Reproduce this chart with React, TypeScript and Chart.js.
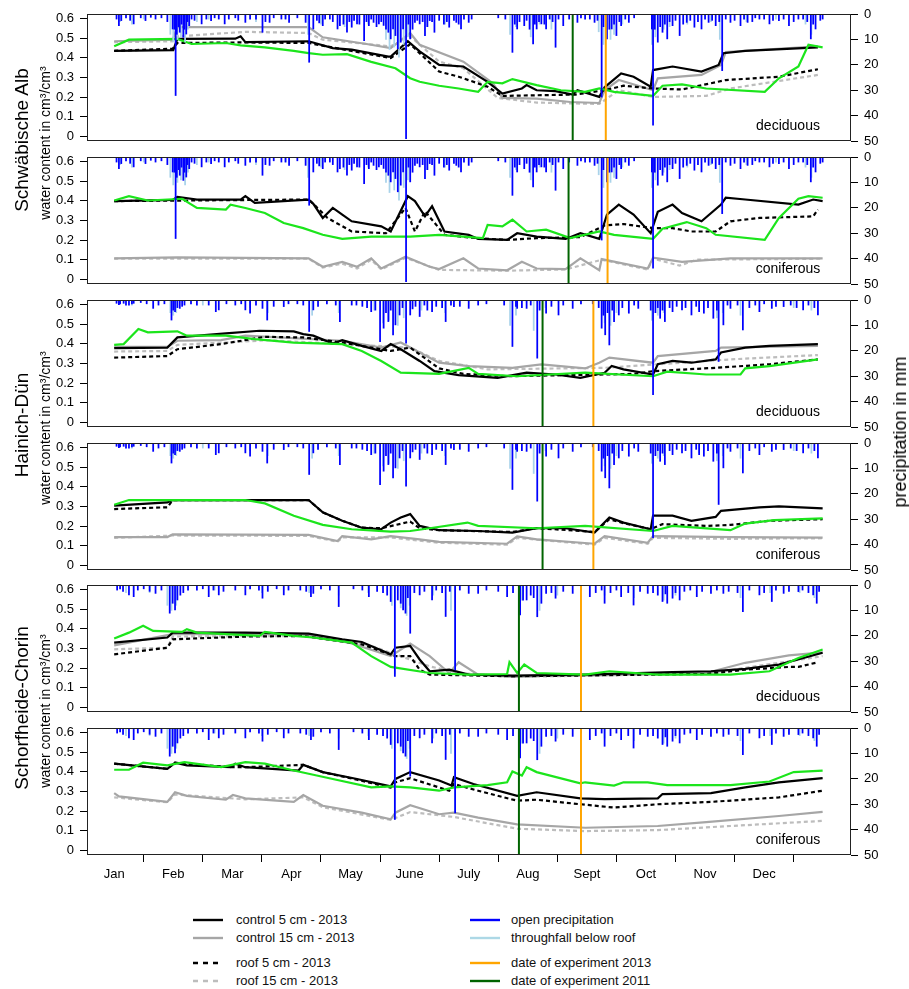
import React, { useEffect, useRef } from "react";
import { Chart, registerables } from "chart.js";
Chart.register(...registerables);

type P = [number, number];

// ---------- axes / labels ----------
const MONTHS = ["Jan", "Feb", "Mar", "Apr", "May", "June", "July", "Aug", "Sept", "Oct", "Nov", "Dec"];
const MONTH_TICKS = [0, 1, 2, 3, 4, 5, 6, 7, 8, 9, 10, 11, 12];
const WATER_TICKS = [0, 0.1, 0.2, 0.3, 0.4, 0.5, 0.6];
const PRECIP_TICKS = [0, 10, 20, 30, 40, 50];
const SITES = ["Schwäbische Alb", "Hainich-Dün", "Schorfheide-Chorin"];
const FORESTS = ["deciduous", "coniferous", "deciduous", "coniferous", "deciduous", "coniferous"];
// experiment dates (x in months since 1 Jan)
const EXP_2013 = [8.32, 8.35, 8.11, 8.11, 7.9, 7.9];
const EXP_2011 = [7.76, 7.69, 7.25, 7.25, 6.85, 6.85];

// ---------- Schwäbische Alb, deciduous ----------
const albDecC5: P[] = [[0,0.436],[1.0,0.44],[1.07,0.497],[2.05,0.498],[2.14,0.51],[2.22,0.48],[3.29,0.485],[3.7,0.45],[4.02,0.442],[4.64,0.407],[4.68,0.407],[4.97,0.485],[5.17,0.433],[5.5,0.364],[5.91,0.356],[6.32,0.278],[6.57,0.218],[6.9,0.244],[6.98,0.261],[7.15,0.235],[7.47,0.23],[7.76,0.213],[7.84,0.235],[8.21,0.201],[8.3,0.25],[8.58,0.321],[8.79,0.304],[9.08,0.253],[9.12,0.338],[9.45,0.356],[9.94,0.33],[10.23,0.364],[10.31,0.424],[10.68,0.436],[11.91,0.454]];
const albDecC15: P[] = [[0,0.485],[0.99,0.493],[1.07,0.557],[3.29,0.557],[3.53,0.505],[4.27,0.471],[4.68,0.45],[5.01,0.527],[5.17,0.467],[5.91,0.381],[6.41,0.27],[6.57,0.196],[7.15,0.192],[7.72,0.175],[8.21,0.17],[8.3,0.235],[8.54,0.287],[9.12,0.235],[9.2,0.296],[9.94,0.313],[10.27,0.364],[10.35,0.43],[11.91,0.459]];
const albDecR5: P[] = [[0,0.436],[0.99,0.447],[1.07,0.476],[2.14,0.479],[3.29,0.476],[4.68,0.399],[5.01,0.47],[5.5,0.33],[5.83,0.304],[6.32,0.253],[6.57,0.206],[7.8,0.213],[8.3,0.235],[8.62,0.258],[9.12,0.244],[9.61,0.239],[10.35,0.287],[11.25,0.304],[11.91,0.342]];
const albDecR15: P[] = [[0,0.48],[0.99,0.485],[1.07,0.51],[2.22,0.533],[3.29,0.527],[3.53,0.493],[4.68,0.459],[5.01,0.51],[5.5,0.381],[5.91,0.347],[6.49,0.196],[7.15,0.172],[8.21,0.165],[8.54,0.235],[9.12,0.201],[10.02,0.206],[10.43,0.244],[11.91,0.313]];
const albDecGreen: P[] = [[0,0.459],[0.25,0.493],[1.07,0.497],[1.31,0.471],[1.89,0.476],[2.14,0.464],[2.55,0.454],[3.04,0.436],[3.29,0.424],[3.53,0.416],[3.94,0.419],[4.35,0.38],[4.76,0.347],[5.01,0.296],[5.17,0.278],[5.5,0.258],[5.83,0.244],[6.16,0.227],[6.32,0.278],[6.57,0.27],[6.74,0.292],[7.15,0.261],[7.56,0.235],[7.97,0.227],[8.21,0.244],[8.46,0.227],[9.12,0.206],[9.28,0.258],[9.61,0.265],[10.02,0.244],[11.01,0.227],[11.25,0.296],[11.58,0.356],[11.75,0.467],[11.99,0.454]];

// ---------- Schwäbische Alb, coniferous ----------
const albConC5: P[] = [[0,0.399],[0.99,0.405],[1.07,0.421],[1.4,0.407],[2.14,0.407],[2.22,0.424],[2.38,0.39],[3.29,0.407],[3.37,0.385],[3.53,0.313],[3.7,0.364],[3.86,0.33],[4.02,0.296],[4.52,0.27],[4.68,0.244],[4.97,0.424],[5.09,0.399],[5.26,0.321],[5.38,0.373],[5.59,0.244],[6.0,0.227],[6.16,0.206],[6.65,0.201],[6.82,0.235],[7.15,0.218],[7.64,0.206],[7.89,0.235],[8.21,0.206],[8.34,0.33],[8.54,0.381],[8.79,0.33],[9.08,0.235],[9.2,0.344],[9.45,0.381],[9.61,0.338],[9.94,0.296],[10.27,0.381],[10.35,0.416],[10.68,0.407],[11.58,0.381],[11.83,0.407],[11.99,0.399]];
const albConC15: P[] = [[0,0.107],[1.07,0.112],[3.29,0.107],[3.53,0.064],[3.86,0.089],[4.11,0.064],[4.35,0.107],[4.52,0.055],[4.93,0.115],[5.34,0.064],[5.5,0.052],[5.91,0.107],[6.16,0.055],[6.65,0.046],[6.9,0.089],[7.15,0.055],[7.64,0.052],[7.89,0.107],[8.21,0.046],[8.25,0.103],[9.03,0.055],[9.12,0.11],[9.61,0.089],[10.43,0.107],[11.99,0.107]];
const albConR5: P[] = [[0,0.399],[3.29,0.407],[3.37,0.385],[3.61,0.313],[4.02,0.244],[4.6,0.235],[4.93,0.364],[5.09,0.244],[5.26,0.347],[5.59,0.227],[6.0,0.213],[6.65,0.201],[7.15,0.21],[7.89,0.215],[8.3,0.275],[8.62,0.282],[9.12,0.261],[9.45,0.261],[9.77,0.244],[10.18,0.244],[10.43,0.296],[10.92,0.313],[11.83,0.321],[11.91,0.356]];
const albConR15: P[] = [[0,0.105],[3.29,0.105],[3.53,0.06],[3.86,0.08],[4.11,0.055],[4.35,0.1],[4.52,0.05],[4.93,0.11],[5.5,0.048],[6.65,0.044],[7.64,0.05],[8.25,0.1],[9.03,0.05],[9.12,0.105],[9.57,0.07],[9.86,0.1],[11.99,0.105]];
const albConGreen: P[] = [[0,0.402],[0.25,0.424],[0.57,0.402],[1.15,0.411],[1.4,0.364],[1.89,0.356],[1.97,0.381],[2.22,0.364],[2.55,0.338],[2.87,0.287],[3.2,0.261],[3.53,0.227],[3.86,0.206],[4.35,0.218],[5.01,0.218],[5.5,0.227],[6.24,0.21],[6.32,0.278],[6.57,0.27],[6.74,0.304],[6.98,0.244],[7.31,0.253],[7.72,0.21],[8.21,0.244],[8.46,0.227],[9.12,0.206],[9.28,0.258],[9.69,0.292],[10.02,0.261],[10.18,0.227],[11.01,0.201],[11.25,0.313],[11.58,0.411],[11.75,0.424],[11.99,0.416]];

// ---------- Hainich-Dün, deciduous ----------
const haiDecC5: P[] = [[0,0.378],[0.9,0.381],[1.07,0.433],[1.89,0.454],[2.46,0.467],[3.04,0.464],[3.2,0.45],[3.37,0.442],[3.7,0.402],[3.86,0.419],[4.19,0.39],[4.52,0.364],[4.68,0.399],[4.85,0.373],[5.17,0.313],[5.42,0.261],[5.83,0.241],[6.49,0.227],[6.98,0.253],[7.47,0.244],[7.89,0.227],[8.3,0.253],[8.42,0.287],[8.62,0.27],[9.12,0.244],[9.2,0.296],[9.45,0.313],[9.77,0.304],[10.18,0.321],[10.27,0.356],[10.68,0.381],[11.09,0.39],[11.91,0.399]];
const haiDecC15: P[] = [[0,0.385],[0.9,0.385],[1.07,0.416],[1.81,0.419],[2.22,0.442],[3.86,0.416],[4.52,0.381],[4.85,0.407],[5.17,0.356],[5.5,0.304],[6.0,0.287],[6.74,0.278],[7.23,0.296],[7.97,0.275],[8.21,0.304],[8.38,0.33],[9.12,0.304],[9.2,0.338],[10.18,0.364],[10.27,0.381],[11.91,0.39]];
const haiDecR5: P[] = [[0,0.33],[0.9,0.338],[1.07,0.373],[1.81,0.399],[2.55,0.436],[3.2,0.433],[3.86,0.407],[4.68,0.364],[5.01,0.381],[5.5,0.275],[5.91,0.247],[6.65,0.235],[8.3,0.244],[8.79,0.247],[9.12,0.261],[10.18,0.278],[11.09,0.296],[11.91,0.321]];
const haiDecR15: P[] = [[0,0.361],[0.9,0.364],[1.07,0.395],[2.63,0.419],[3.86,0.399],[5.01,0.381],[5.5,0.313],[6.32,0.27],[8.3,0.278],[9.2,0.296],[10.43,0.321],[11.91,0.343]];
const haiDecGreen: P[] = [[0,0.395],[0.16,0.399],[0.41,0.476],[0.57,0.459],[1.07,0.464],[1.23,0.442],[1.89,0.442],[2.38,0.424],[3.04,0.407],[3.86,0.399],[4.19,0.364],[4.52,0.313],[4.85,0.253],[5.5,0.247],[6.0,0.278],[6.16,0.247],[6.82,0.235],[7.97,0.253],[9.12,0.235],[9.36,0.258],[10.02,0.244],[10.6,0.244],[10.68,0.275],[11.09,0.287],[11.91,0.321]];

// ---------- Hainich-Dün, coniferous ----------
const haiConC5: P[] = [[0,0.304],[0.9,0.321],[0.99,0.333],[3.29,0.333],[3.53,0.27],[3.86,0.227],[4.19,0.192],[4.52,0.184],[4.68,0.218],[4.85,0.244],[5.01,0.261],[5.17,0.201],[5.5,0.179],[6.16,0.175],[6.74,0.167],[7.15,0.189],[7.64,0.189],[8.13,0.167],[8.38,0.244],[8.62,0.218],[9.08,0.184],[9.12,0.253],[9.45,0.253],[9.77,0.227],[10.18,0.247],[10.27,0.278],[10.92,0.296],[11.25,0.301],[11.99,0.29]];
const haiConC15: P[] = [[0,0.144],[0.9,0.144],[0.99,0.158],[3.29,0.155],[3.78,0.124],[3.86,0.149],[4.35,0.132],[4.68,0.149],[5.17,0.132],[5.5,0.12],[6.65,0.11],[6.82,0.148],[7.15,0.132],[8.13,0.11],[8.3,0.149],[9.03,0.115],[9.12,0.149],[10.43,0.144],[11.99,0.141]];
const haiConR5: P[] = [[0,0.287],[0.9,0.296],[0.99,0.333],[3.29,0.333],[3.53,0.27],[3.86,0.227],[4.19,0.192],[4.52,0.189],[5.01,0.223],[5.17,0.189],[5.5,0.179],[6.74,0.17],[7.15,0.19],[8.13,0.17],[8.38,0.235],[8.62,0.215],[9.08,0.184],[9.28,0.21],[10.02,0.201],[10.43,0.206],[11.09,0.227],[11.99,0.235]];
const haiConR15: P[] = [[0,0.14],[0.99,0.152],[3.29,0.15],[3.78,0.12],[3.86,0.142],[4.68,0.142],[5.5,0.115],[6.65,0.105],[6.82,0.14],[8.13,0.105],[8.3,0.14],[9.03,0.11],[9.12,0.14],[10.43,0.135],[11.99,0.138]];
const haiConGreen: P[] = [[0,0.309],[0.25,0.333],[2.22,0.333],[2.55,0.316],[3.04,0.253],[3.53,0.206],[4.02,0.184],[4.68,0.172],[5.01,0.175],[5.34,0.189],[5.98,0.218],[6.16,0.201],[7.15,0.189],[7.97,0.201],[9.12,0.175],[9.45,0.201],[10.43,0.179],[10.68,0.213],[11.17,0.23],[11.99,0.239]];

// ---------- Schorfheide-Chorin, deciduous ----------
const schDecC5: P[] = [[0,0.33],[0.9,0.356],[0.99,0.381],[2.22,0.381],[3.29,0.376],[3.86,0.347],[4.19,0.333],[4.68,0.27],[4.76,0.304],[5.01,0.313],[5.17,0.244],[5.34,0.184],[5.67,0.192],[6.0,0.167],[6.74,0.162],[7.97,0.167],[9.45,0.179],[10.1,0.184],[10.68,0.196],[11.25,0.218],[11.99,0.278]];
const schDecC15: P[] = [[0,0.316],[0.99,0.373],[3.2,0.373],[3.94,0.333],[4.68,0.261],[5.01,0.325],[5.34,0.261],[5.67,0.175],[5.83,0.23],[6.16,0.167],[6.74,0.158],[10.02,0.175],[10.68,0.227],[11.42,0.265],[11.99,0.28]];
const schDecR5: P[] = [[0,0.27],[0.9,0.304],[0.99,0.347],[2.22,0.361],[3.2,0.364],[4.19,0.321],[4.76,0.261],[5.01,0.261],[5.17,0.192],[5.34,0.167],[6.74,0.158],[10.02,0.17],[10.68,0.192],[11.42,0.206],[11.58,0.206],[11.91,0.23]];
const schDecR15: P[] = [[0,0.296],[0.9,0.304],[0.99,0.361],[3.2,0.364],[4.35,0.313],[4.76,0.27],[5.34,0.209],[5.83,0.175],[6.74,0.155],[10.02,0.172],[11.25,0.227],[11.99,0.261]];
const schDecGreen: P[] = [[0,0.351],[0.25,0.381],[0.49,0.416],[0.66,0.39],[1.15,0.385],[1.23,0.399],[1.4,0.381],[2.46,0.364],[2.55,0.385],[3.04,0.364],[3.37,0.356],[4.02,0.33],[4.35,0.261],[4.68,0.206],[5.34,0.175],[6.0,0.167],[6.65,0.17],[6.69,0.23],[6.82,0.175],[6.94,0.218],[7.15,0.175],[7.97,0.167],[8.38,0.184],[9.2,0.167],[10.43,0.167],[11.09,0.184],[11.58,0.252],[11.99,0.295]];

// ---------- Schorfheide-Chorin, coniferous ----------
const schConC5: P[] = [[0,0.442],[0.9,0.416],[1.03,0.447],[1.23,0.433],[1.97,0.424],[2.05,0.442],[2.22,0.424],[3.12,0.407],[3.2,0.436],[3.53,0.399],[4.11,0.364],[4.68,0.326],[4.76,0.364],[5.01,0.399],[5.5,0.356],[5.71,0.33],[5.75,0.373],[6.08,0.338],[6.82,0.278],[7.15,0.296],[7.89,0.265],[8.3,0.261],[9.2,0.265],[9.28,0.287],[10.1,0.292],[10.68,0.321],[11.25,0.347],[11.99,0.368]];
const schConC15: P[] = [[0,0.292],[0.08,0.275],[0.9,0.247],[1.03,0.296],[1.23,0.278],[1.89,0.258],[2.01,0.282],[2.22,0.265],[3.04,0.247],[3.2,0.282],[3.53,0.227],[4.19,0.192],[4.68,0.158],[4.76,0.192],[5.01,0.23],[5.5,0.184],[5.75,0.192],[6.16,0.167],[6.82,0.132],[7.97,0.115],[9.2,0.124],[10.02,0.144],[11.25,0.175],[11.99,0.196]];
const schConR5: P[] = [[0,0.442],[0.9,0.416],[1.03,0.447],[1.97,0.424],[2.22,0.424],[3.2,0.436],[3.53,0.399],[4.11,0.36],[4.68,0.32],[4.76,0.347],[5.01,0.368],[5.67,0.304],[5.75,0.338],[6.16,0.304],[6.82,0.253],[7.15,0.258],[7.89,0.235],[8.46,0.218],[9.2,0.235],[10.1,0.247],[11.25,0.27],[11.99,0.304]];
const schConR15: P[] = [[0,0.27],[0.9,0.245],[1.03,0.285],[2.22,0.26],[3.2,0.27],[3.53,0.22],[4.68,0.155],[5.01,0.195],[5.75,0.17],[6.82,0.11],[7.97,0.098],[9.2,0.103],[10.43,0.124],[11.99,0.15]];
const schConGreen: P[] = [[0,0.411],[0.25,0.411],[0.49,0.447],[0.9,0.433],[1.19,0.45],[1.81,0.424],[2.22,0.45],[2.55,0.442],[3.04,0.407],[3.7,0.364],[4.35,0.321],[4.68,0.326],[5.01,0.321],[5.5,0.304],[5.75,0.321],[6.32,0.333],[6.65,0.347],[6.74,0.402],[6.9,0.381],[6.98,0.424],[7.15,0.399],[7.89,0.342],[7.97,0.347],[8.46,0.33],[8.62,0.347],[9.03,0.347],[9.36,0.333],[10.43,0.333],[11.09,0.351],[11.5,0.399],[11.99,0.407]];

// ---------- precipitation (mm), x in months ----------
const albOpen: P[] = [[0.08,4.6],[0.12,2.6],[0.33,3.9],[0.53,2.6],[0.62,1.3],[0.99,5.9],[1.04,32.1],[1.11,7.2],[1.17,9.2],[1.22,7.9],[1.27,4.6],[1.48,3.9],[1.64,2.6],[1.77,2.0],[1.87,3.9],[2.22,3.3],[2.3,2.0],[2.51,7.2],[2.63,3.3],[2.83,2.0],[2.96,3.3],[3.24,3.3],[3.3,19.0],[3.37,5.9],[3.53,4.6],[3.57,2.0],[3.78,5.9],[3.82,4.6],[3.94,7.2],[4.02,5.2],[4.11,3.9],[4.23,10.5],[4.31,4.6],[4.39,3.3],[4.48,3.9],[4.64,7.2],[4.68,9.8],[4.72,5.9],[4.76,8.5],[4.8,13.7],[4.85,11.1],[4.89,5.9],[4.94,49.1],[5.01,9.8],[5.09,3.3],[5.17,3.9],[5.26,8.5],[5.34,2.6],[5.42,7.2],[5.67,5.2],[5.79,3.3],[5.87,5.9],[6.0,3.3],[6.74,15.1],[6.82,5.9],[6.94,4.6],[7.09,11.8],[7.15,5.9],[7.23,3.9],[7.31,5.9],[7.47,13.1],[7.6,4.6],[7.84,3.3],[7.97,2.0],[8.13,3.3],[8.25,32.7],[8.34,9.8],[8.42,5.9],[8.5,8.5],[8.58,4.6],[8.71,3.3],[9.1,5.9],[9.12,43.8],[9.2,11.1],[9.28,7.2],[9.36,9.8],[9.45,4.6],[9.57,8.5],[9.69,3.3],[9.82,5.2],[9.94,5.9],[10.06,3.3],[10.18,4.6],[10.29,22.3],[10.43,3.3],[10.6,4.6],[10.72,3.3],[10.92,2.0],[11.09,3.9],[11.25,2.6],[11.42,4.6],[11.58,2.0],[11.79,9.8],[11.87,5.9],[11.99,2.0]];
const albOpenSmall: P[] = [[0.04,2],[0.2,1.5],[0.27,2.5],[0.45,1.5],[0.7,2],[0.8,1.5],[0.9,3],[1.02,6],[1.06,8],[1.09,5],[1.14,4],[1.19,6],[1.24,3],[1.31,2],[1.36,2.5],[1.56,2],[1.7,1.5],[1.94,2],[2.05,1.5],[2.1,2.5],[2.4,2],[2.56,3],[2.7,1.5],[2.9,2],[3.1,1.5],[3.43,2.5],[3.47,3.5],[3.65,2],[3.7,3],[3.88,4],[3.98,3],[4.06,2.5],[4.15,4],[4.27,3],[4.35,2],[4.44,5],[4.52,3],[4.56,4.5],[4.6,6],[4.98,4],[5.05,6],[5.13,2.5],[5.22,3],[5.3,5],[5.38,3],[5.5,2.5],[5.58,4],[5.63,3],[5.75,2.5],[5.83,4],[5.92,2],[6.05,2],[6.5,1.5],[6.62,2],[6.78,4],[6.86,3],[6.98,2.5],[7.03,6],[7.12,4],[7.19,3],[7.28,4],[7.37,2],[7.42,3],[7.52,2],[7.7,2],[7.9,1.5],[8.05,2],[8.18,2.5],[8.28,5],[8.38,6],[8.46,4],[8.55,3],[8.65,2],[8.8,1.5],[9.15,6],[9.24,5],[9.32,4],[9.4,3],[9.5,2.5],[9.63,4],[9.75,2.5],[9.88,3],[10.0,2],[10.12,2.5],[10.24,3],[10.35,2],[10.5,2.5],[10.66,2],[10.8,3],[10.85,1.5],[11.0,2],[11.15,2.5],[11.33,2],[11.5,3],[11.66,2],[11.73,3],[11.83,4],[11.95,2.5]];
const albThroughfall: P[] = [[0.1,3],[0.3,4],[0.5,2],[0.95,8],[1.0,11],[1.07,10],[1.13,9],[1.2,11],[1.25,6],[1.4,3],[1.6,2],[2.4,3],[2.9,2],[3.28,8],[3.5,4],[3.9,5],[4.3,4],[4.6,10],[4.66,14],[4.74,13],[4.82,17],[4.9,12],[4.97,9],[5.3,5],[5.6,4],[6.7,8],[6.8,5],[7.05,9],[7.2,4],[7.4,6],[8.2,7],[8.28,12],[8.4,10],[8.46,8],[8.6,4],[9.1,12],[9.16,9],[9.3,6],[9.4,5],[9.7,4],[10.1,3],[10.25,10],[10.7,3],[11.2,2],[11.7,4],[11.8,8]];
const haiOpen: P[] = [[0.04,1.3],[0.08,1.8],[0.16,1.3],[0.25,2.0],[0.33,1.3],[0.66,3.3],[0.97,7.9],[1.03,4.6],[1.11,3.3],[1.19,2.0],[1.4,2.0],[1.72,4.6],[1.77,3.9],[2.22,3.9],[2.3,5.2],[2.51,3.3],[2.59,7.9],[2.87,2.6],[3.3,12.4],[3.37,3.9],[3.82,8.5],[4.02,2.0],[4.35,4.6],[4.5,16.4],[4.56,11.1],[4.64,8.5],[4.72,13.7],[4.76,9.8],[4.83,5.9],[4.94,17.0],[5.01,5.9],[5.17,6.5],[5.38,4.6],[5.61,8.5],[5.75,2.6],[6.0,3.3],[6.16,2.0],[6.74,18.3],[6.82,3.3],[6.98,3.3],[7.16,22.9],[7.31,5.2],[7.52,5.9],[7.76,3.3],[8.25,11.1],[8.31,13.7],[8.38,17.7],[8.46,8.5],[8.54,5.9],[8.71,5.2],[8.87,3.3],[9.12,37.3],[9.24,7.2],[9.32,8.5],[9.45,4.6],[9.61,3.9],[9.77,5.9],[9.9,4.6],[9.98,5.2],[10.14,7.2],[10.23,24.2],[10.31,9.8],[10.43,3.3],[10.64,11.8],[10.92,4.6],[11.13,3.3],[11.33,2.6],[11.66,3.9],[11.91,5.9]];
const haiOpenSmall: P[] = [[0.1,1.5],[0.2,2],[0.3,1.5],[0.45,1],[0.55,1.5],[0.75,2],[0.85,1.5],[1.0,4],[1.07,3],[1.15,2.5],[1.3,1.5],[1.6,2],[1.9,1.5],[2.05,2],[2.15,1.5],[2.4,2],[2.7,2.5],[2.95,1.5],[3.1,1.5],[3.2,2],[3.45,2.5],[3.6,1.5],[3.75,2],[4.1,2],[4.2,2.5],[4.28,3],[4.42,4],[4.6,5],[4.68,4],[4.88,3],[5.05,3.5],[5.1,2.5],[5.25,2],[5.3,4],[5.45,2.5],[5.55,3],[5.7,2],[5.85,2.5],[6.3,1.5],[6.6,2],[6.8,2.5],[6.9,3],[7.05,2],[7.2,4],[7.4,2.5],[7.6,2],[7.9,1.5],[8.1,1.5],[8.2,3],[8.28,6],[8.35,5],[8.43,4],[8.6,3],[8.8,2],[9.08,4],[9.16,5],[9.2,3],[9.28,4],[9.4,3],[9.52,2.5],[9.67,3],[9.85,2.5],[10.05,3],[10.2,4],[10.38,2],[10.55,2],[10.75,3],[10.85,2],[11.0,1.5],[11.2,2.5],[11.45,2],[11.55,3],[11.75,2],[11.85,3]];
const haiThroughfall: P[] = [[0.3,2],[0.95,5],[1.0,6],[1.05,5],[1.5,2],[2.3,3],[2.6,5],[3.35,6],[3.8,5],[4.4,4],[4.55,9],[4.65,8],[4.8,10],[4.9,7],[5.2,4],[5.6,5],[6.7,10],[6.8,6],[7.1,12],[7.3,3],[8.3,9],[8.4,10],[8.5,5],[9.1,8],[9.2,6],[9.3,5],[9.9,4],[10.2,7],[10.3,5],[10.6,6],[11.5,3],[11.8,4]];
const schOpen: P[] = [[0.25,3.9],[0.33,4.6],[0.7,3.3],[0.94,11.1],[0.99,7.2],[1.03,9.8],[1.07,5.9],[1.4,2.0],[1.6,4.6],[1.77,3.9],[2.22,3.9],[2.51,5.2],[2.87,3.9],[3.33,4.6],[3.37,3.3],[3.8,8.5],[4.31,4.6],[4.68,6.5],[4.75,36.0],[4.8,5.9],[4.85,7.2],[4.89,9.8],[4.93,11.1],[5.01,19.0],[5.17,3.9],[5.38,5.9],[5.61,12.4],[5.77,33.4],[6.0,3.3],[6.16,3.3],[6.65,4.6],[6.87,11.8],[6.98,5.9],[7.16,12.5],[7.23,7.2],[7.31,3.3],[7.47,5.2],[7.76,3.3],[8.05,4.6],[8.3,7.2],[8.58,4.6],[8.79,7.9],[9.03,3.3],[9.28,6.5],[9.36,7.2],[9.45,5.2],[9.57,5.9],[9.86,4.6],[10.1,3.3],[10.31,3.3],[10.64,10.5],[10.92,3.9],[11.13,6.5],[11.33,3.3],[11.58,2.6],[11.83,3.9],[11.89,7.2]];
const schOpenSmall: P[] = [[0.05,2],[0.1,1.5],[0.15,2.5],[0.4,2],[0.5,1.5],[0.6,2.5],[0.8,2],[1.12,4],[1.17,3],[1.25,2],[1.5,1.5],[1.68,2],[1.85,2.5],[2.05,2],[2.3,1.5],[2.45,2],[2.6,2.5],[2.75,1.5],[2.95,2],[3.15,2],[3.25,2.5],[3.5,1.5],[3.65,2],[4.05,1.5],[4.2,2],[4.45,2.5],[4.55,3],[4.62,4],[4.97,5],[5.08,3],[5.25,2.5],[5.45,2],[5.55,3],[5.68,2.5],[5.85,2],[6.3,2],[6.5,2.5],[6.75,3],[6.92,6],[7.05,4],[7.1,5],[7.4,3],[7.6,2.5],[7.9,2],[8.15,3],[8.25,2],[8.4,3],[8.5,2],[8.7,3],[8.9,2.5],[9.12,3],[9.2,4],[9.33,3.5],[9.5,3],[9.65,2.5],[9.75,2],[9.95,2.5],[10.2,2],[10.4,2.5],[10.55,3],[10.75,2],[11.0,3],[11.2,2],[11.42,2.5],[11.65,2],[11.75,3],[11.93,2.5]];
const schThroughfall: P[] = [[0.2,3],[0.6,3],[0.9,8],[0.97,10],[1.05,8],[1.7,2],[2.5,3],[3.3,3],[3.8,4],[4.3,3],[4.7,8],[4.75,35],[4.85,9],[4.95,12],[5.0,8],[5.4,4],[5.7,10],[5.77,33],[6.85,9],[6.9,6],[7.2,10],[7.5,4],[8.3,4],[8.8,5],[9.3,6],[9.5,4],[10.6,5],[11.1,3],[11.6,3],[11.85,5]];

// ---------- panel table built from the arrays ----------
const albPrecip = [...albOpen, ...albOpenSmall];
const haiPrecip = [...haiOpen, ...haiOpenSmall];
const schPrecip = [...schOpen, ...schOpenSmall];
const PANELS = [
  { c5: albDecC5, c15: albDecC15, r5: albDecR5, r15: albDecR15, green: albDecGreen, open: albPrecip, thr: albThroughfall },
  { c5: albConC5, c15: albConC15, r5: albConR5, r15: albConR15, green: albConGreen, open: albPrecip, thr: albThroughfall },
  { c5: haiDecC5, c15: haiDecC15, r5: haiDecR5, r15: haiDecR15, green: haiDecGreen, open: haiPrecip, thr: haiThroughfall },
  { c5: haiConC5, c15: haiConC15, r5: haiConR5, r15: haiConR15, green: haiConGreen, open: haiPrecip, thr: haiThroughfall },
  { c5: schDecC5, c15: schDecC15, r5: schDecR5, r15: schDecR15, green: schDecGreen, open: schPrecip, thr: schThroughfall },
  { c5: schConC5, c15: schConC15, r5: schConR5, r15: schConR15, green: schConGreen, open: schPrecip, thr: schThroughfall },
];

// ---------- styles / layout ----------
const FONT = "'Liberation Sans', Arial, Helvetica, sans-serif";
const BLACK = "#000000";
const GRAY = "#A6A6A6";
const LGRAY = "#BDBDBD";
const GREEN = "#1CE51C";
const BLUE = "#0000FF";
const LBLUE = "#A9D3EA";
const ORANGE = "#FFA500";
const DKGREEN = "#006400";

const W = 909;
const FRAME_LEFT = 87;
const FRAME_RIGHT = 851;
const PANEL_TOPS = [14, 157, 300, 443, 585, 728];
const PANEL_H = 127;
const PAD = 18;
const XAXIS_H = 32;
const X_MIN = -0.46;
const X_MAX = 12.47;
const Y_MIN = -0.024;
const Y_MAX = 0.624;
const SITE_CENTERS = [140, 425, 708];

const framePlugin = {
  id: "frame",
  afterDatasetsDraw(chart: any) {
    const { ctx, chartArea: a } = chart;
    ctx.save();
    ctx.strokeStyle = "#222";
    ctx.lineWidth = 1;
    ctx.strokeRect(Math.round(a.left) + 0.5, Math.round(a.top) + 0.5, Math.round(a.right - a.left) - 1, Math.round(a.bottom - a.top) - 1);
    ctx.restore();
  },
};

const axisGrid = { display: true, drawOnChartArea: false, drawTicks: true, tickLength: 7, color: "#000", lineWidth: 1 };

function makeChart(canvas: HTMLCanvasElement, idx: number) {
  const p = PANELS[idx];
  const last = idx === PANELS.length - 1;
  const pts = (a: P[]) => a.map(([x, y]) => ({ x, y }));
  const vline = (x: number, color: string) => ({
    type: "line", data: [{ x, y: Y_MIN }, { x, y: Y_MAX }], borderColor: color, borderWidth: 2,
    pointRadius: 0, yAxisID: "y", order: 0,
  });
  const line = (a: P[], color: string, dash: number[], order: number, width = 2.2) => ({
    type: "line", data: pts(a), borderColor: color, borderWidth: width, borderDash: dash,
    pointRadius: 0, tension: 0, fill: false, yAxisID: "y", order,
  });
  const bars = (a: P[], color: string, order: number) => ({
    type: "bar", data: pts(a), backgroundColor: color, borderWidth: 0, barThickness: 1.1,
    grouped: false, yAxisID: "p", order,
  });
  return new Chart(canvas, {
    type: "line",
    data: {
      datasets: [
        vline(EXP_2013[idx], ORANGE),
        vline(EXP_2011[idx], DKGREEN),
        bars(p.open, BLUE, 1),
        bars(p.thr, LBLUE, 2),
        line(p.green, GREEN, [], 3),
        line(p.c5, BLACK, [], 4),
        line(p.r5, BLACK, [4, 3], 5),
        line(p.c15, GRAY, [], 6),
        line(p.r15, LGRAY, [4, 3], 7),
      ] as any,
    },
    options: {
      animation: false,
      responsive: false,
      events: [],
      layout: { padding: { top: PAD, bottom: PAD, left: 0, right: 0 } },
      plugins: { legend: { display: false }, tooltip: { enabled: false } },
      font: { family: FONT },
      scales: {
        x: {
          type: "linear", min: X_MIN, max: X_MAX, display: last, offset: false,
          afterBuildTicks: (s: any) => { s.ticks = MONTH_TICKS.map((v) => ({ value: v })); },
          afterFit: (s: any) => { if (last) s.height = XAXIS_H; },
          grid: axisGrid, border: { display: false },
          ticks: {
            autoSkip: false, maxRotation: 0, minRotation: 0, padding: 5, color: "#000",
            font: { size: 13, family: FONT },
            callback: (v: any) => MONTHS[v] ?? "",
          },
        },
        y: {
          type: "linear", position: "left", min: Y_MIN, max: Y_MAX,
          afterBuildTicks: (s: any) => { s.ticks = WATER_TICKS.map((v) => ({ value: v })); },
          afterFit: (s: any) => { s.width = FRAME_LEFT; },
          grid: axisGrid, border: { display: false },
          ticks: {
            padding: 6, color: "#000", font: { size: 13, family: FONT },
            callback: (v: any) => (Number(v) === 0 ? "0" : Number(v).toFixed(1)),
          },
        },
        p: {
          type: "linear", position: "right", reverse: true, min: 0, max: 50,
          afterBuildTicks: (s: any) => { s.ticks = PRECIP_TICKS.map((v) => ({ value: v })); },
          afterFit: (s: any) => { s.width = W - FRAME_RIGHT; },
          grid: axisGrid, border: { display: false },
          ticks: { padding: 6, color: "#000", font: { size: 13, family: FONT }, callback: (v: any) => String(v) },
        },
      },
    } as any,
    plugins: [framePlugin],
  });
}

const LEGEND_LEFT = [
  { label: "control 5 cm - 2013", color: BLACK, dash: "", y: 920 },
  { label: "control 15 cm - 2013", color: GRAY, dash: "", y: 938 },
  { label: "roof 5 cm - 2013", color: BLACK, dash: "5 5", y: 963 },
  { label: "roof 15 cm - 2013", color: LGRAY, dash: "5 5", y: 981 },
];
const LEGEND_RIGHT = [
  { label: "open precipitation", color: BLUE, dash: "", y: 920 },
  { label: "throughfall below roof", color: "#ADD8E6", dash: "", y: 938 },
  { label: "date of experiment 2013", color: ORANGE, dash: "", y: 963 },
  { label: "date of experiment 2011", color: DKGREEN, dash: "", y: 981 },
];

function LegendItem({ item, lineX, textX }: { item: any; lineX: number; textX: number }) {
  return (
    <>
      <svg style={{ position: "absolute", left: lineX, top: item.y - 3, overflow: "visible" }} width={30} height={6}>
        <line x1={0} y1={3} x2={30} y2={3} stroke={item.color} strokeWidth={2.4} strokeDasharray={item.dash || undefined} />
      </svg>
      <div style={{ position: "absolute", left: textX, top: item.y - 9, height: 18, lineHeight: "18px", fontSize: 13, color: "#111", whiteSpace: "nowrap" }}>
        {item.label}
      </div>
    </>
  );
}

function Rotated({ text, cx, cy, size }: { text: string; cx: number; cy: number; size: number }) {
  return (
    <div style={{ position: "absolute", left: cx, top: cy, transform: "translate(-50%, -50%) rotate(-90deg)", whiteSpace: "nowrap", fontSize: size, lineHeight: 1, color: "#000" }}>
      {text}
    </div>
  );
}

export default function App() {
  const refs = useRef<(HTMLCanvasElement | null)[]>([]);
  useEffect(() => {
    const charts = PANELS.map((_, i) => makeChart(refs.current[i] as HTMLCanvasElement, i));
    return () => charts.forEach((c) => c.destroy());
  }, []);

  return (
    <div style={{ position: "absolute", left: 0, top: 0, width: W, height: 989, overflow: "hidden", background: "#fff", fontFamily: FONT }}>
      {PANELS.map((_, i) => {
        const h = PANEL_H + 2 * PAD + (i === PANELS.length - 1 ? XAXIS_H : 0);
        return (
          <canvas
            key={i}
            ref={(el) => { refs.current[i] = el; }}
            width={W}
            height={h}
            style={{ position: "absolute", left: 0, top: PANEL_TOPS[i] - PAD, width: W, height: h }}
          />
        );
      })}
      {FORESTS.map((f, i) => (
        <div key={"f" + i} style={{ position: "absolute", left: 788, top: PANEL_TOPS[i] + PANEL_H - 16, transform: "translate(-50%, -50%)", fontSize: 14, color: "#000", whiteSpace: "nowrap" }}>
          {f}
        </div>
      ))}
      {SITES.map((s, i) => (
        <React.Fragment key={"s" + i}>
          <Rotated text={s} cx={21} cy={SITE_CENTERS[i]} size={19} />
          <Rotated text={"water content in cm³/cm³"} cx={45} cy={SITE_CENTERS[i] + 3} size={14} />
        </React.Fragment>
      ))}
      <Rotated text="precipitation in mm" cx={900} cy={432} size={18} />
      {LEGEND_LEFT.map((it, i) => <LegendItem key={"l" + i} item={it} lineX={193} textX={236} />)}
      {LEGEND_RIGHT.map((it, i) => <LegendItem key={"r" + i} item={it} lineX={470} textX={511} />)}
    </div>
  );
}
